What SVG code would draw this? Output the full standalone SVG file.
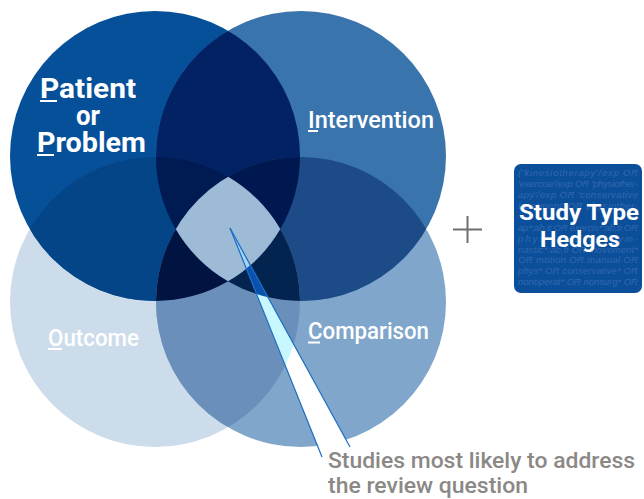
<svg xmlns="http://www.w3.org/2000/svg" width="644" height="499" viewBox="0 0 644 499">
<style>
.lbl{font-family:Roboto,"Open Sans","DejaVu Sans",sans-serif;font-weight:700;fill:#ffffff}
.lbm{font-family:Roboto,"Open Sans","DejaVu Sans",sans-serif;font-weight:500;fill:#ffffff}
.ul{fill:#ffffff}
.bg{font-family:"Liberation Sans",Arial,sans-serif;font-style:italic;font-size:9.6px;fill:#3169ae}
.cap{font-family:Roboto,"Open Sans","DejaVu Sans",sans-serif;font-weight:500;font-size:22px;fill:#8b8886}
.edge{stroke:#1a6cc4;stroke-width:1.2;fill:none}
</style>
<defs>
<circle id="P" cx="155" cy="156" r="145"/>
<circle id="I" cx="301" cy="156" r="145"/>
<circle id="O" cx="155" cy="302" r="145"/>
<circle id="C" cx="301" cy="302" r="145"/>
<polygon id="W" points="230,228 322,457 350,447"/>
<clipPath id="cP"><use href="#P"/></clipPath>
<clipPath id="cI"><use href="#I"/></clipPath>
<clipPath id="cO"><use href="#O"/></clipPath>
<clipPath id="cC"><use href="#C"/></clipPath>
<clipPath id="cPI" clip-path="url(#cP)"><use href="#I"/></clipPath>
<clipPath id="cPO" clip-path="url(#cP)"><use href="#O"/></clipPath>
<clipPath id="cIC" clip-path="url(#cI)"><use href="#C"/></clipPath>
<clipPath id="cPIO" clip-path="url(#cPI)"><use href="#O"/></clipPath>
</defs>

<g id="venn">
<g id="outcome-circle"><use href="#O" fill="#ccdcea"/></g>
<g id="comparison-circle"><use href="#C" fill="#80a6cb"/></g>
<g id="patient-circle"><use href="#P" fill="#06509a"/></g>
<g id="intervention-circle"><use href="#I" fill="#3a74ad"/></g>
<g id="overlaps">
<use href="#O" fill="#044588" clip-path="url(#cP)"/>
<use href="#I" fill="#022263" clip-path="url(#cP)"/>
<use href="#C" fill="#1d4b87" clip-path="url(#cI)"/>
<use href="#C" fill="#6a8fba" clip-path="url(#cO)"/>
<use href="#O" fill="#001a52" clip-path="url(#cPI)"/>
<use href="#C" fill="#001850" clip-path="url(#cPI)"/>
<use href="#C" fill="#001341" clip-path="url(#cPO)"/>
<use href="#O" fill="#03244e" clip-path="url(#cIC)"/>
<use href="#C" fill="#9dbad7" clip-path="url(#cPIO)"/>
</g>
</g>

<g id="connectors">
<use href="#W" fill="#ffffff"/>
<use href="#W" fill="#c8f7ff" clip-path="url(#cO)"/>
<use href="#W" fill="#0b52b0" clip-path="url(#cI)"/>
<use href="#W" fill="#a8d2f0" clip-path="url(#cP)"/>
<line class="edge" x1="230" y1="228" x2="322" y2="457"/>
<line class="edge" x1="230" y1="228" x2="350" y2="447"/>
</g>

<g id="label-patient">
<text class="lbl" font-size="28" x="40" y="98" textLength="96" lengthAdjust="spacingAndGlyphs">Patient</text>
<text class="lbl" font-size="28" x="76" y="125" textLength="24" lengthAdjust="spacingAndGlyphs">or</text>
<text class="lbl" font-size="28" x="37" y="152" textLength="109" lengthAdjust="spacingAndGlyphs">Problem</text>
<rect class="ul" x="40" y="100" width="17" height="2"/>
<rect class="ul" x="37" y="154" width="17" height="2"/>
</g>
<g id="label-intervention">
<text class="lbm" font-size="23" x="308" y="128" textLength="126" lengthAdjust="spacingAndGlyphs">Intervention</text>
<rect class="ul" x="308" y="130" width="10" height="2"/>
</g>
<g id="label-outcome">
<text class="lbm" font-size="23" x="48" y="346" textLength="91" lengthAdjust="spacingAndGlyphs">Outcome</text>
<rect class="ul" x="48" y="348" width="14" height="2"/>
</g>
<g id="label-comparison">
<text class="lbm" font-size="23" x="308" y="339" textLength="121" lengthAdjust="spacingAndGlyphs">Comparison</text>
<rect class="ul" x="308" y="341.5" width="12" height="2"/>
</g>

<g id="plus">
<line x1="453" y1="229.5" x2="482" y2="229.5" stroke="#6e6e6e" stroke-width="2"/>
<line x1="467.5" y1="216" x2="467.5" y2="243" stroke="#6e6e6e" stroke-width="2"/>
</g>

<g id="hedges">
<rect x="514" y="164" width="128" height="129" rx="7" fill="#0b4e9a"/>
<text class="bg" x="518" y="176" textLength="120" lengthAdjust="spacing">('kinesiotherapy'/exp OR</text>
<text class="bg" x="518" y="187" textLength="120" lengthAdjust="spacing">'exercise'/exp OR 'physiother-</text>
<text class="bg" x="518" y="198" textLength="120" lengthAdjust="spacing">apy'/exp OR 'conservative</text>
<text class="bg" x="518" y="209" textLength="120" lengthAdjust="spacing">treatment' OR physiother-</text>
<text class="bg" x="518" y="231" textLength="120" lengthAdjust="spacing">ap*:ab,ti OR exercis*:ab,ti OR</text>
<text class="bg" x="518" y="242" textLength="120" lengthAdjust="spacing">phys*:ab,ti OR gym-</text>
<text class="bg" x="518" y="253" textLength="120" lengthAdjust="spacing">nastic*:ab,ti OR movement*</text>
<text class="bg" x="518" y="263" textLength="120" lengthAdjust="spacing">OR motion OR manual OR</text>
<text class="bg" x="518" y="274" textLength="120" lengthAdjust="spacing">phys* OR conservative* OR</text>
<text class="bg" x="518" y="285" textLength="120" lengthAdjust="spacing">nonoperat* OR nonsurg* OR</text>
<text class="lbl" font-size="22" x="519" y="220" textLength="120" lengthAdjust="spacingAndGlyphs">Study Type</text>
<text class="lbl" font-size="22" x="540" y="247" textLength="80" lengthAdjust="spacingAndGlyphs">Hedges</text>
</g>

<g id="caption">
<text class="cap" x="328" y="468" textLength="307" lengthAdjust="spacingAndGlyphs">Studies most likely to address</text>
<text class="cap" x="328" y="493" textLength="200" lengthAdjust="spacingAndGlyphs">the review question</text>
</g>
</svg>
